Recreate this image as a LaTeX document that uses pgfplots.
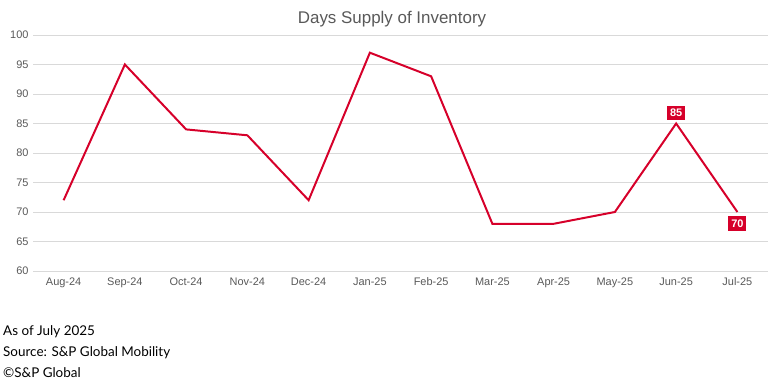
\documentclass[border=0pt]{standalone}
\usepackage{pgfplots}
\pgfplotsset{compat=1.18}
\usepackage{fontspec}
\setmainfont{Liberation Sans}
\newfontfamily\footfont{Lato}
\definecolor{spred}{RGB}{214,0,42}
\definecolor{tickgray}{RGB}{89,89,89}
\definecolor{gridgray}{RGB}{217,217,217}
\begin{document}
\begin{tikzpicture}[x=1bp,y=1bp]
\path[use as bounding box] (0,0) rectangle (774,391);
\begin{axis}[
  at={(33bp,120bp)}, anchor=south west,
  width=735bp, height=236bp, scale only axis,
  xmin=-0.5, xmax=11.5, ymin=60, ymax=100,
  ytick={60,65,...,100},
  xtick={0,...,11},
  xticklabels={Aug-24,Sep-24,Oct-24,Nov-24,Dec-24,Jan-25,Feb-25,Mar-25,Apr-25,May-25,Jun-25,Jul-25},
  axis line style={draw=none},
  major tick length=0pt,
  ymajorgrids, grid style={gridgray, line width=0.9pt},
  tick label style={font=\fontsize{11}{13}\selectfont, text=tickgray},
  /pgf/number format/assume math mode=true,
  yticklabel style={xshift=-1bp},
  xticklabel style={yshift=-3bp},
  clip=false,
]
\addplot[spred, line width=2pt, mark=none] coordinates {
(0,72) (1,95) (2,84) (3,83) (4,72) (5,97) (6,93) (7,68) (8,68) (9,70) (10,85) (11,70)};
\addplot[draw=none, mark=none, nodes near coords,
  every node near coord/.style={fill=spred, text=white, font=\fontsize{11}{13}\selectfont\bfseries, inner xsep=3bp, inner ysep=3.5bp, anchor=south, yshift=3bp}]
  coordinates {(10,85)};
\addplot[draw=none, mark=none, nodes near coords,
  every node near coord/.style={fill=spred, text=white, font=\fontsize{11}{13}\selectfont\bfseries, inner xsep=3bp, inner ysep=3.5bp, anchor=north, yshift=-4bp}]
  coordinates {(11,70)};
\end{axis}
\node[text=tickgray, font=\fontsize{17}{20}\selectfont] at (392,372) {Days Supply of Inventory};
\node[anchor=base west, font=\footfont\fontsize{13.5}{15}\selectfont, inner sep=0] at (3,56) {As of July 2025};
\node[anchor=base west, font=\footfont\fontsize{13.5}{15}\selectfont, inner sep=0] at (3,35) {Source: S\&P Global Mobility};
\node[anchor=base west, font=\footfont\fontsize{13.5}{15}\selectfont, inner sep=0] at (3,14) {\textcopyright S\&P Global};
\end{tikzpicture}
\end{document}
